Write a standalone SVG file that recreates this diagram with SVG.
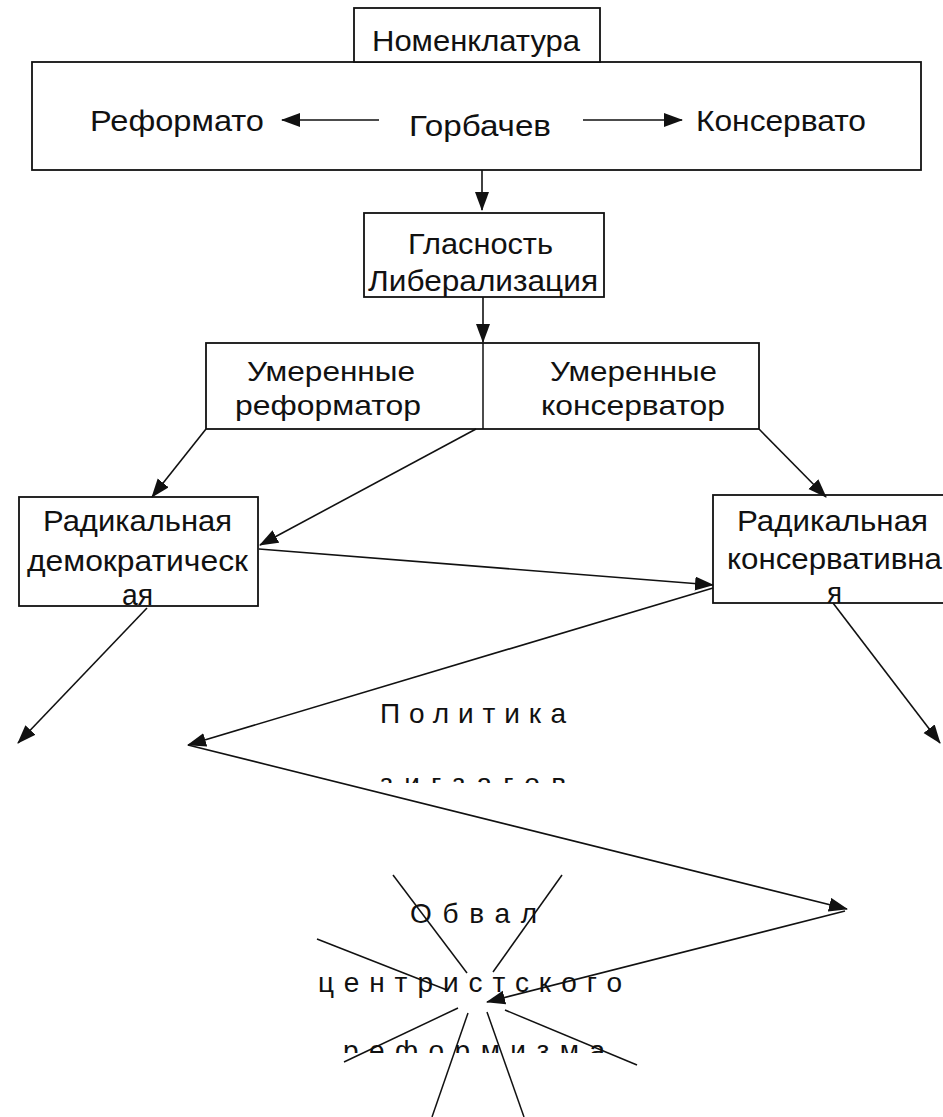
<svg xmlns="http://www.w3.org/2000/svg" width="943" height="1117" viewBox="0 0 943 1117">
<style>
.box{fill:#fff;stroke:#111;stroke-width:1.8}
.t{font-family:"Liberation Sans",Arial,sans-serif;font-size:30px;fill:#111}
.m{font-size:28px}
.sp{font-family:"Liberation Sans",Arial,sans-serif;font-size:28px;fill:#111}
.ln{stroke:#111;stroke-width:1.5;fill:none}
.ar{stroke:#111;stroke-width:1.6;fill:none;marker-end:url(#ah)}
</style>
<defs>
<marker id="ah" markerUnits="userSpaceOnUse" markerWidth="19" markerHeight="15" refX="18" refY="7" orient="auto">
<path d="M0,0 L19,7 L0,14 z" fill="#111"/>
</marker>
<clipPath id="c1"><rect x="360" y="760" width="230" height="23"/></clipPath>
<clipPath id="c2"><rect x="330" y="1030" width="320" height="23"/></clipPath>
</defs>
<rect width="943" height="1117" fill="#fff"/>

<g id="main">
<rect class="box" x="32" y="62" width="889" height="108"/>
<text class="t" x="90" y="131" textLength="174" lengthAdjust="spacingAndGlyphs">Реформато</text>
<text class="t" x="409" y="136" textLength="142" lengthAdjust="spacingAndGlyphs">Горбачев</text>
<text class="t" x="696" y="131" textLength="170" lengthAdjust="spacingAndGlyphs">Консервато</text>
</g>

<g id="nomenklatura">
<rect class="box" x="354" y="8" width="246" height="54"/>
<text class="t" x="372" y="51" textLength="208" lengthAdjust="spacingAndGlyphs">Номенклатура</text>
</g>

<g id="glasnost">
<rect class="box" x="364" y="213" width="240" height="84"/>
<text class="t" x="408" y="254" textLength="145" lengthAdjust="spacingAndGlyphs">Гласность</text>
<text class="t" x="368" y="291" textLength="230" lengthAdjust="spacingAndGlyphs">Либерализация</text>
</g>

<g id="moderate">
<rect class="box" x="206" y="343" width="553" height="86"/>
<line class="ln" x1="483" y1="343" x2="483" y2="429"/>
<text class="t m" x="247" y="381" textLength="168" lengthAdjust="spacingAndGlyphs">Умеренные</text>
<text class="t m" x="235" y="415" textLength="186" lengthAdjust="spacingAndGlyphs">реформатор</text>
<text class="t m" x="550" y="381" textLength="167" lengthAdjust="spacingAndGlyphs">Умеренные</text>
<text class="t m" x="541" y="415" textLength="184" lengthAdjust="spacingAndGlyphs">консерватор</text>
</g>

<g id="radical-dem">
<rect class="box" x="19" y="497" width="239" height="109"/>
<text class="t" x="43" y="531" textLength="189" lengthAdjust="spacingAndGlyphs">Радикальная</text>
<text class="t" x="27" y="571" textLength="221" lengthAdjust="spacingAndGlyphs">демократическ</text>
<text class="t" x="122" y="605" textLength="31" lengthAdjust="spacingAndGlyphs">ая</text>
</g>

<g id="radical-cons">
<rect class="box" x="713" y="495" width="240" height="108"/>
<text class="t" x="737" y="531" textLength="191" lengthAdjust="spacingAndGlyphs">Радикальная</text>
<text class="t" x="727" y="569" textLength="215" lengthAdjust="spacingAndGlyphs">консервативна</text>
<text class="t" x="827" y="603" textLength="15" lengthAdjust="spacingAndGlyphs">я</text>
</g>

<g id="zigzag">
<text class="sp" x="380" y="723" textLength="186">Политика</text>
<text class="sp" x="380" y="793" textLength="186" clip-path="url(#c1)">зигзагов</text>
</g>

<g id="collapse">
<text class="sp" x="410" y="923" textLength="127">Обвал</text>
<text class="sp" x="318" y="992" textLength="304">центристского</text>
<text class="sp" x="343" y="1060" textLength="262" clip-path="url(#c2)">реформизма</text>
</g>

<g id="burst">
<line class="ln" x1="393" y1="875" x2="467" y2="973"/>
<line class="ln" x1="562" y1="875" x2="493" y2="972"/>
<line class="ln" x1="317" y1="939" x2="447" y2="990"/>
<line class="ln" x1="458" y1="1008" x2="344" y2="1062"/>
<line class="ln" x1="468" y1="1013" x2="432" y2="1117"/>
<line class="ln" x1="487" y1="1012" x2="524" y2="1117"/>
<line class="ln" x1="505" y1="1010" x2="637" y2="1065"/>
</g>

<g id="connectors">
<line class="ar" x1="379" y1="120" x2="282" y2="120"/>
<line class="ar" x1="583" y1="120" x2="682" y2="120"/>
<line class="ar" x1="482" y1="170" x2="482" y2="210"/>
<line class="ar" x1="483" y1="297" x2="483" y2="342"/>
<line class="ar" x1="206" y1="429" x2="152" y2="497"/>
<line class="ar" x1="476" y1="429" x2="260" y2="545"/>
<line class="ar" x1="759" y1="429" x2="826" y2="497"/>
<line class="ar" x1="259" y1="549" x2="713" y2="585"/>
<line class="ar" x1="713" y1="588" x2="188" y2="745"/>
<line class="ar" x1="188" y1="745" x2="847" y2="909"/>
<line class="ar" x1="845" y1="911" x2="487" y2="1002"/>
<line class="ar" x1="147" y1="608" x2="18" y2="743"/>
<line class="ar" x1="833" y1="603" x2="940" y2="743"/>
</g>
</svg>
